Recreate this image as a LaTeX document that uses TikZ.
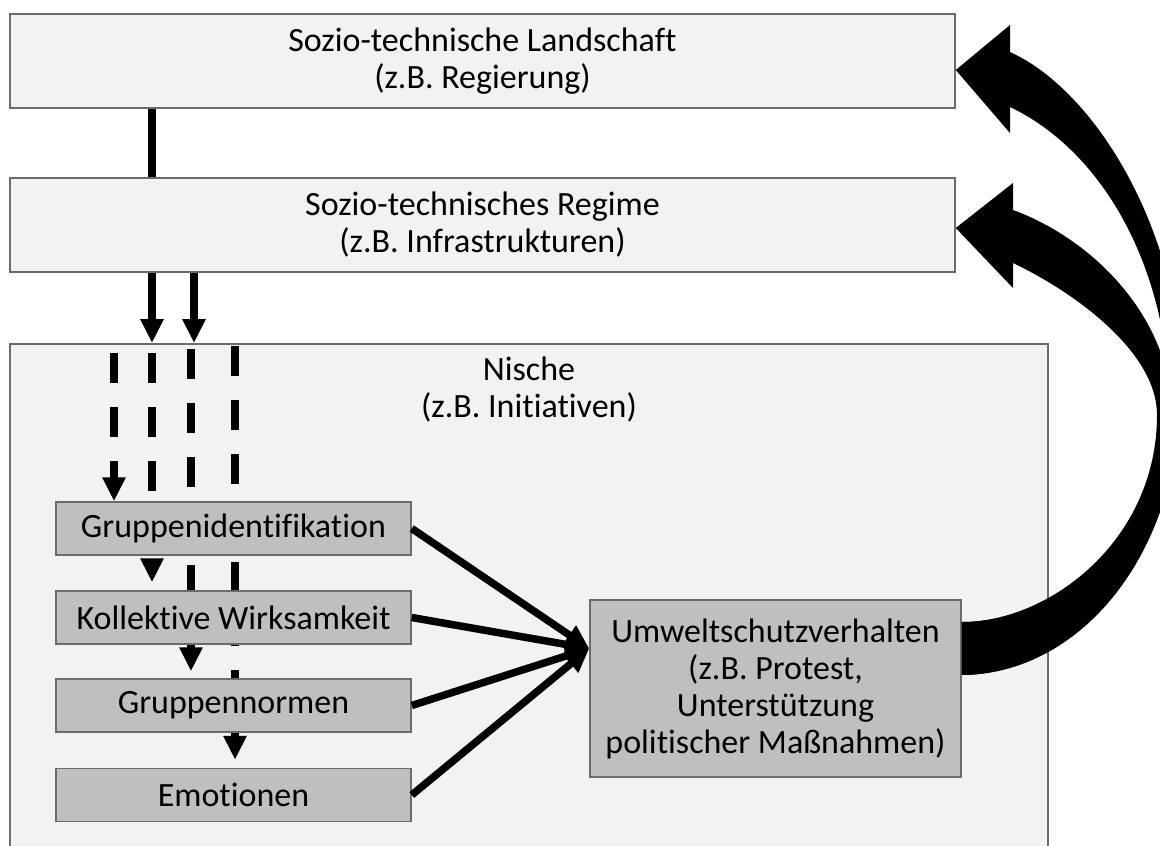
\documentclass[tikz,border=0pt]{standalone}
\usepackage{fontspec}
\setmainfont{Carlito}[Ligatures=NoCommon]
\usetikzlibrary{arrows.meta,positioning,backgrounds}
\definecolor{boxline}{HTML}{6B6B6B}
\definecolor{boxlight}{HTML}{F2F2F2}
\definecolor{boxdark}{HTML}{BFBFBF}
\tikzset{
  lbox/.style={draw=boxline,fill=boxlight,line width=0.75pt,inner sep=0pt,align=center},
  gbox/.style={draw=boxline,fill=boxdark,line width=0.75pt,inner sep=0pt,align=center,
    minimum width=177.5pt,minimum height=26.5pt},
  fat/.style={line width=3.75pt},
  fatarr/.style={fat,-{Triangle[length=12pt,width=11pt]}},
  dsh/.style={fatarr,dash pattern=on 15pt off 12pt},
  big/.style={fill=black}
}

\begin{document}
\begin{tikzpicture}[x=0.5pt,y=-0.5pt,font=\fontsize{17}{18.5}\selectfont]
\useasboundingbox (0,0) rectangle (1160,845);
\clip (0,0) rectangle (1160,845);
% levels
\node[lbox,minimum width=472.5pt,minimum height=47pt] (land) at (482.5,61)
  {Sozio-technische Landschaft\\(z.B. Regierung)};
\node[lbox,minimum width=472.5pt,minimum height=47pt] (regime) at (482.5,225)
  {Sozio-technisches Regime\\(z.B. Infrastrukturen)};
% factors in the niche
\node[gbox] (gruppe) at (233.5,528.5) {Gruppenidentifikation};
\node[gbox] (kollektiv) at (233.5,617.5) {Kollektive Wirksamkeit};
\node[gbox] (normen) at (233.5,705.5) {Gruppennormen};
\node[gbox] (emo) at (233.5,795) {Emotionen};
\node[gbox,minimum width=185.5pt,minimum height=88.5pt] (umwelt) at (775.5,688.5)
  {Umweltschutzverhalten\\(z.B. Protest,\\Unterstützung\\politischer Maßnahmen)};
\begin{scope}[on background layer]
\clip (0,0) rectangle (1160,845);
\node[lbox,minimum width=519pt,minimum height=253.5pt,anchor=north] (nische) at (529,343) {};
\draw[dsh,dash phase=22pt] (114,0 |- nische.north) -- (114,0 |- gruppe.north);
\draw[dsh,dash phase=22pt,shorten >=4pt] (152,0 |- nische.north) -- (152,0 |- kollektiv.north);
\draw[dsh,dash phase=24pt,shorten >=3.5pt] (191,0 |- nische.north) -- (191,0 |- normen.north);
\draw[dsh,dash phase=25.5pt,shorten >=4pt] (235,0 |- nische.north) -- (235,0 |- emo.north);
\end{scope}
\node[inner sep=0pt,align=center,below=6.5pt of nische.north] (nischetxt) {Nische\\(z.B. Initiativen)};
% top-down links
\draw[fat] (152,0 |- land.south) -- (152,0 |- regime.north);
\draw[fatarr] (152,0 |- regime.south) -- (152,0 |- nische.north);
\draw[fatarr] (194,0 |- regime.south) -- (194,0 |- nische.north);
% into behaviour
\coordinate (uin) at ([yshift=20pt]umwelt.west);
\foreach \n in {gruppe,kollektiv,normen,emo}
  \draw[fatarr] (\n.east) -- (uin);
% feedback arrows
\fill[big] (umwelt.east |- 0,622) .. controls (1060,622) and (1172,540) .. (1170,400)
  .. controls (1165,260) and (1100,150) .. (1010,107) -- (1010,133) -- (land.east |- 0,70)
  -- (1010,25) -- (1010,52) .. controls (1105,95) and (1195,260) .. (1180,420)
  .. controls (1165,580) and (1065,675) .. (umwelt.east |- 0,675) -- cycle;
\fill[big] (umwelt.east |- 0,622) .. controls (1050,622) and (1157,540) .. (1157,415)
  .. controls (1157,350) and (1070,290) .. (1013,263) -- (1013,288) -- (regime.east |- 0,228)
  -- (1013,183) -- (1013,210) .. controls (1095,240) and (1172,320) .. (1172,415)
  .. controls (1172,560) and (1060,675) .. (umwelt.east |- 0,675) -- cycle;
\end{tikzpicture}
\end{document}
